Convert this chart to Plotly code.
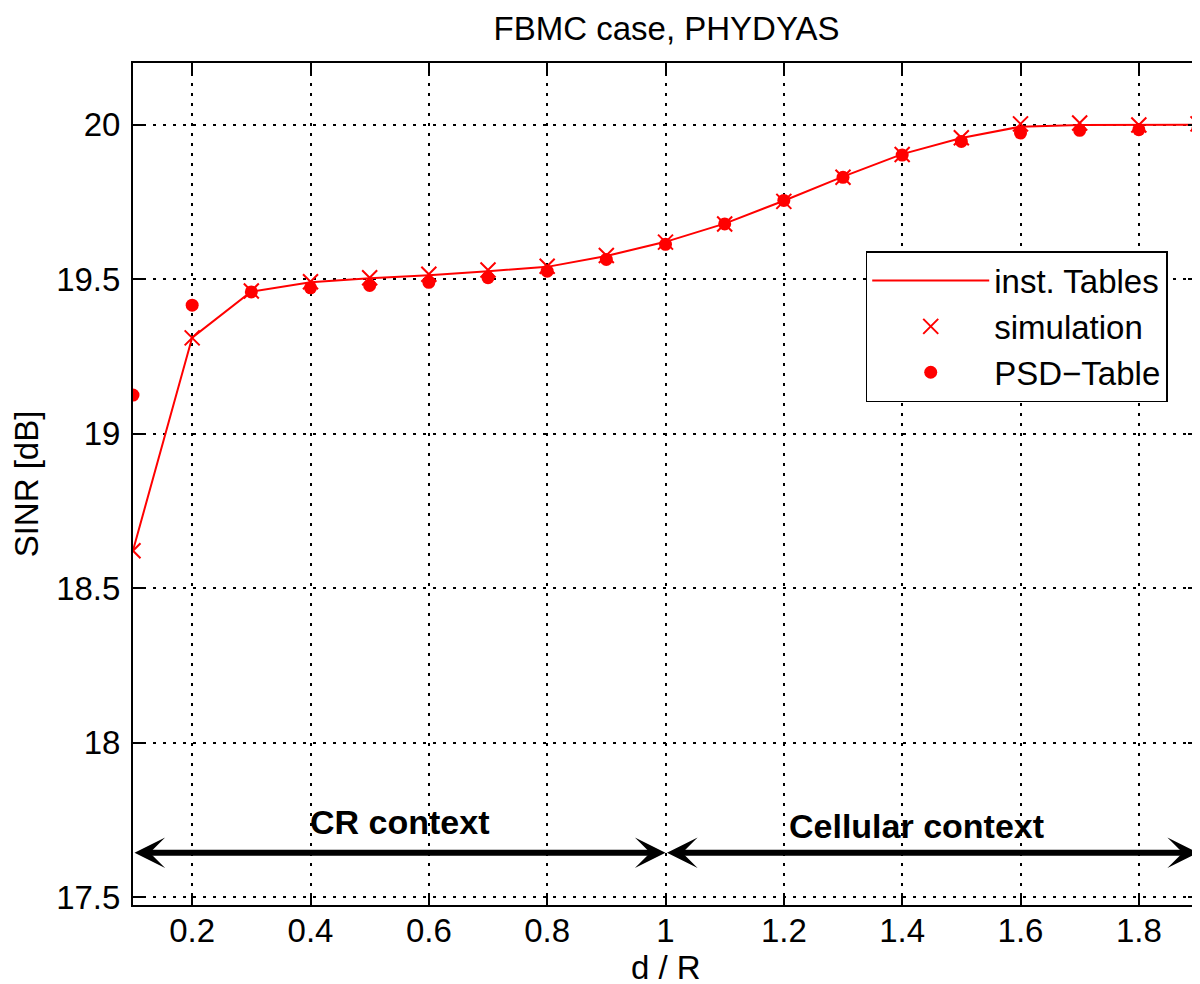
import plotly.graph_objects as go

# ---- data ----
d_over_R = [0.1, 0.2, 0.3, 0.4, 0.5, 0.6, 0.7, 0.8, 0.9, 1.0,
            1.1, 1.2, 1.3, 1.4, 1.5, 1.6, 1.7, 1.8, 1.9]
inst_tables = [18.622, 19.311, 19.460, 19.490, 19.503, 19.513, 19.526, 19.540, 19.575, 19.621,
               19.680, 19.754, 19.832, 19.905, 19.957, 19.994, 19.999, 19.999, 20.000]
simulation = [18.621, 19.310, 19.462, 19.492, 19.505, 19.516, 19.530, 19.542, 19.577, 19.620,
              19.679, 19.752, 19.830, 19.904, 19.958, 20.003, 20.006, 19.999, 20.003]
psd_table = [19.125, 19.416, 19.459, 19.472, 19.480, 19.490, 19.505, 19.526, 19.564, 19.613,
             19.679, 19.755, 19.830, 19.902, 19.946, 19.973, 19.982, 19.984, 19.986]

x_ticks = [0.2, 0.4, 0.6, 0.8, 1.0, 1.2, 1.4, 1.6, 1.8]
x_tick_labels = ["0.2", "0.4", "0.6", "0.8", "1", "1.2", "1.4", "1.6", "1.8"]
y_ticks = [17.5, 18.0, 18.5, 19.0, 19.5, 20.0]
y_tick_labels = ["17.5", "18", "18.5", "19", "19.5", "20"]

# context arrows / labels
cr_span = (0.1, 1.0)
cell_span = (1.0, 1.9)
arrow_y = 17.643
cr_label = ("CR context", 0.55, 17.742)
cell_label = ("Cellular context", 1.425, 17.731)

FONT = "Liberation Sans, Arial, Helvetica, sans-serif"
FS = 33
RED = "#ff0000"

fig = go.Figure()
fig.add_trace(go.Scatter(x=d_over_R, y=inst_tables, mode="lines", name="inst. Tables",
                         line=dict(color=RED, width=2)))
fig.add_trace(go.Scatter(x=d_over_R, y=simulation, mode="markers", name="simulation",
                         marker=dict(symbol="x-thin", size=15, color=RED,
                                     line=dict(color=RED, width=2))))
fig.add_trace(go.Scatter(x=d_over_R, y=psd_table, mode="markers", name="PSD\u2212Table",
                         marker=dict(symbol="circle", size=13, color=RED,
                                     line=dict(width=0))))

annotations = []
for (x0, x1) in (cr_span, cell_span):
    annotations.append(dict(x=x1, y=arrow_y, ax=x0, ay=arrow_y, xref="x", yref="y",
                            axref="x", ayref="y", text="", showarrow=True,
                            arrowhead=3, startarrowhead=3, arrowside="end+start",
                            arrowsize=0.85, startarrowsize=0.85, arrowwidth=6,
                            arrowcolor="black"))
for (txt, tx, ty) in (cr_label, cell_label):
    annotations.append(dict(x=tx, y=ty, xref="x", yref="y", text="<b>" + txt + "</b>",
                            showarrow=False, font=dict(family=FONT, size=34, color="black"),
                            xanchor="center", yanchor="middle"))
# x-axis title
annotations.append(dict(text="d / R", x=0.5, y=(897 - 960) / 842, xref="paper", yref="paper",
                        xanchor="center", yanchor="middle", showarrow=False,
                        font=dict(family=FONT, size=FS, color="black")))

axis_common = dict(showline=True, linecolor="black", linewidth=2, mirror="ticks",
                   ticks="inside", ticklen=10, tickwidth=1.5, tickcolor="black",
                   showgrid=True, gridcolor="black", gridwidth=1.5, griddash="3px,7px",
                   zeroline=False, tickfont=dict(family=FONT, size=FS, color="black"))

fig.update_layout(
    width=1200, height=984,
    margin=dict(l=125, r=8, t=55, b=87),
    plot_bgcolor="white", paper_bgcolor="white",
    font=dict(family=FONT, size=FS, color="black"),
    title=dict(text="FBMC case, PHYDYAS", x=(125 + 1192) / 2 / 1200, xanchor="center",
               y=1 - 20 / 984, yanchor="middle", yref="container",
               font=dict(family=FONT, size=FS, color="black")),
    showlegend=True,
    legend=dict(x=0.688, y=0.7767, xanchor="left", yanchor="top",
                bgcolor="white", bordercolor="black", borderwidth=1.5,
                font=dict(family=FONT, size=FS, color="black"),
                itemwidth=117, tracegroupgap=0),
    annotations=annotations,
)
fig.update_xaxes(range=[0.1, 1.9], tickmode="array", tickvals=x_ticks, ticktext=x_tick_labels,
                 ticklabelstandoff=-5, **axis_common)
fig.update_yaxes(range=[17.474, 20.2], tickmode="array", tickvals=y_ticks, ticktext=y_tick_labels,
                 title=dict(text="SINR [dB]", font=dict(family=FONT, size=FS), standoff=12),
                 ticklabelstandoff=4, **axis_common)

fig.write_html("out.html")
